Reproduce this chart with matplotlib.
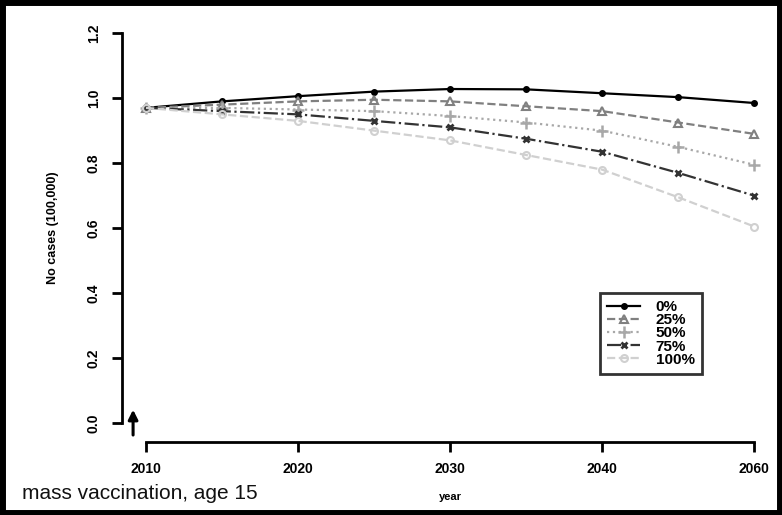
import matplotlib
matplotlib.use("Agg")
import matplotlib.pyplot as plt
from matplotlib.patches import Rectangle

plt.rcParams['font.family'] = ['Liberation Sans', 'DejaVu Sans']

years = [2010, 2015, 2020, 2025, 2030, 2035, 2040, 2045, 2050]
cov_0 = [0.97, 0.99, 1.006, 1.02, 1.028, 1.027, 1.015, 1.003, 0.985]
cov_25 = [0.97, 0.98, 0.99, 0.995, 0.99, 0.975, 0.96, 0.925, 0.89]
cov_50 = [0.97, 0.97, 0.965, 0.96, 0.945, 0.925, 0.90, 0.85, 0.795]
cov_75 = [0.97, 0.96, 0.95, 0.93, 0.91, 0.875, 0.835, 0.77, 0.70]
cov_100 = [0.97, 0.95, 0.93, 0.90, 0.87, 0.825, 0.78, 0.695, 0.605]
labels = ['0%', '25%', '50%', '75%', '100%']

xticks = [2010, 2020, 2030, 2040, 2050]
xticklabels = ['2010', '2020', '2030', '2040', '2060']
yticks = [0.0, 0.2, 0.4, 0.6, 0.8, 1.0, 1.2]
yticklabels = ['0.0', '0.2', '0.4', '0.6', '0.8', '1.0', '1.2']

fig = plt.figure(figsize=(7.82, 5.15), dpi=100)
ax = fig.add_axes([0.1556, 0.148, 0.84, 0.818])

styles = [
    dict(color='black', linestyle='-', marker='o', markersize=4),
    dict(color='#808080', linestyle='--', marker='^', markersize=6, markerfacecolor='none', markeredgewidth=1.5),
    dict(color='#a8a8a8', linestyle=':', marker='+', markersize=8, markeredgewidth=1.8),
    dict(color='#333333', linestyle='-.', marker='x', markersize=5, markeredgewidth=2),
    dict(color='#d0d0d0', linestyle='--', marker='o', markersize=5, markerfacecolor='none', markeredgewidth=1.5),
]
for vals, lab, st in zip([cov_0, cov_25, cov_50, cov_75, cov_100], labels, styles):
    ax.plot(years, vals, label=lab, linewidth=1.6, **st)

ax.set_xlim(2008.4, 2051.6)
ax.set_ylim(-0.048, 1.248)
for s in ['top', 'right']:
    ax.spines[s].set_visible(False)
ax.spines['left'].set_bounds(0, 1.2)
ax.spines['bottom'].set_bounds(2010, 2050)
ax.spines['left'].set_linewidth(2)
ax.spines['bottom'].set_linewidth(2)
ax.spines['bottom'].set_position(('outward', 2))

ax.set_xticks(xticks)
ax.set_xticklabels(xticklabels, fontsize=10, fontweight='bold')
ax.set_yticks(yticks)
ax.set_yticklabels(yticklabels, fontsize=10, fontweight='bold', rotation=90, va='center')
ax.tick_params(axis='both', width=2, length=7, pad=8)

ax.set_ylabel('No cases (100,000)', fontsize=9, fontweight='bold', labelpad=20)
ax.set_xlabel('year', fontsize=8, fontweight='bold', labelpad=11)

leg = ax.legend(loc='upper left', bbox_to_anchor=(0.728, 0.346), borderaxespad=0,
                fontsize=11, frameon=True, fancybox=False, edgecolor='black',
                handlelength=2.2, labelspacing=-0.05, borderpad=0.45, handletextpad=1.0)
leg.get_frame().set_linewidth(2)
for t in leg.get_texts():
    t.set_fontweight('bold')

ax.annotate('', xy=(2009.15, 0.05), xytext=(2009.15, -0.045),
            arrowprops=dict(arrowstyle='-|>', color='black', lw=2.2, mutation_scale=14),
            annotation_clip=False)
fig.text(0.028, 0.032, 'mass vaccination, age 15', fontsize=15, color='#111111')

fig.patches.append(Rectangle((0.003, 0.004), 0.994, 0.992, transform=fig.transFigure,
                             fill=False, edgecolor='black', linewidth=5))

fig.savefig('out.png', dpi=100)
